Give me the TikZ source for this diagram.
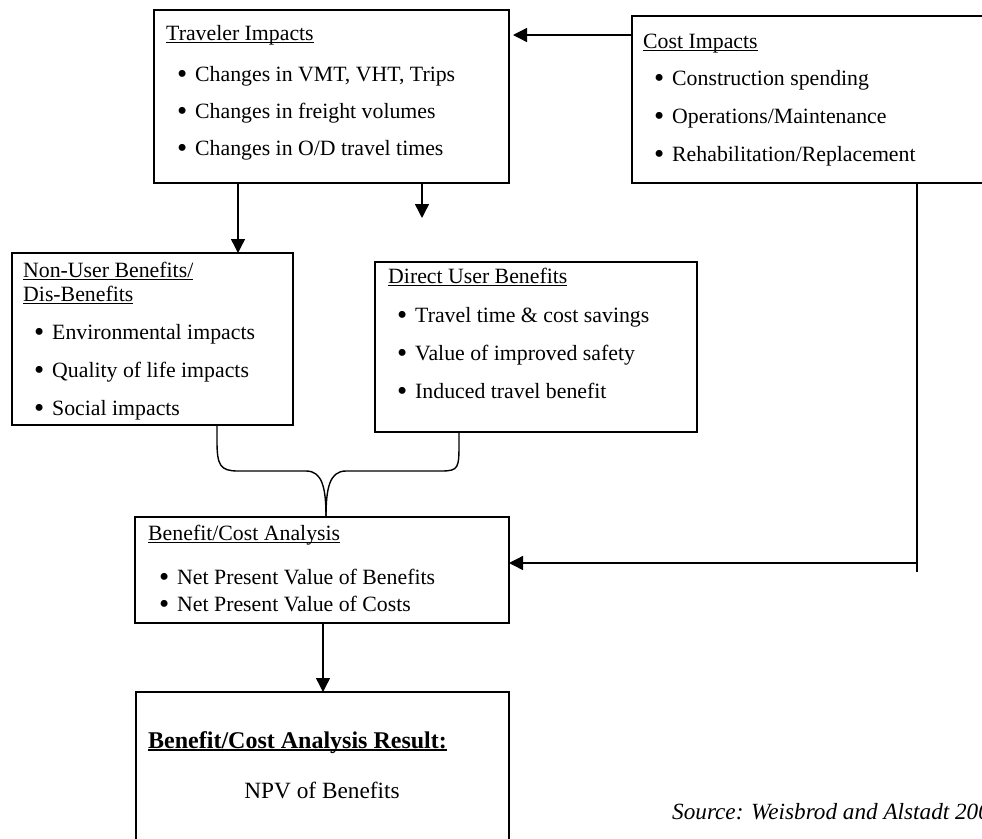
\documentclass[tikz,border=0pt]{standalone}
\usepackage{fontspec}
\setmainfont{Liberation Serif}
\usetikzlibrary{arrows.meta,calc}
\newcommand\uln[2][1.1pt]{\setbox0\hbox{#2}\rlap{\rule[-2.6pt]{\wd0}{#1}}\box0}
\newcommand\bigbul{\llap{\smash{\raisebox{-2.2pt}{\fontsize{29}{29}\selectfont\textbullet}}\hspace{8pt}}}
\tikzset{
  box/.style={draw, line width=1.5pt, rectangle, inner sep=0pt, outer sep=0pt, anchor=north west},
  ttl/.style={anchor=base west, inner sep=0pt, font=\fontsize{21.8}{24}\selectfont},
  itm/.style={anchor=base west, inner sep=0pt, font=\fontsize{21.8}{24}\selectfont,
    execute at begin node={\bigbul}},
  ln/.style={line width=1.4pt},
  arr/.style={line width=1.4pt, -{Triangle[length=14pt,width=14pt]}},
}
\begin{document}
\begin{tikzpicture}[x=1pt,y=-1pt]
\clip (0,0) rectangle (982,838);
\fill[white] (0,0) rectangle (982,838);
% boxes
\node[box, minimum width=355pt, minimum height=173pt] (T) at (154,10) {};
\node[box, minimum width=400pt, minimum height=167pt] (C) at (632,16) {};
\node[box, minimum width=281pt, minimum height=172pt] (N) at (12,253) {};
\node[box, minimum width=322pt, minimum height=170pt] (D) at (375,262) {};
\node[box, minimum width=374pt, minimum height=106pt] (BC) at (135,517) {};
\node[box, minimum width=373pt, minimum height=200pt] (R) at (136,692) {};
% Traveler Impacts
\node[ttl] (Tt) at (166,40) {\uln{Traveler Impacts}};
\node[itm] (T1) at (195,81) {Changes in VMT, VHT, Trips};
\node[itm] (T2) at (195,118) {Changes in freight volumes};
\node[itm] (T3) at (195,155) {Changes in O/D travel times};
% Cost Impacts
\node[ttl] (Ct) at (643,48) {\uln{Cost Impacts}};
\node[itm] (C1) at (672,85) {Construction spending};
\node[itm] (C2) at (672,123) {Operations/Maintenance};
\node[itm] (C3) at (672,161) {Rehabilitation/Replacement};
% Non-user
\node[ttl] (Nt1) at (23,277) {\uln{Non-User Benefits/}};
\node[ttl] (Nt2) at (23,301) {\uln{Dis-Benefits}};
\node[itm] (N1) at (52,339) {Environmental impacts};
\node[itm] (N2) at (52,377) {Quality of life impacts};
\node[itm] (N3) at (52,415) {Social impacts};
% Direct user
\node[ttl] (Dt) at (388,283) {\uln{Direct User Benefits}};
\node[itm] (D1) at (415,322) {Travel time \& cost savings};
\node[itm] (D2) at (415,360) {Value of improved safety};
\node[itm] (D3) at (415,398) {Induced travel benefit};
% Benefit/Cost analysis
\node[ttl] (Bt) at (148,540) {\uln{Benefit/Cost Analysis}};
\node[itm] (B1) at (177,584) {Net Present Value of Benefits};
\node[itm] (B2) at (177,611) {Net Present Value of Costs};
% Result
\node[ttl, font=\fontsize{24}{26}\selectfont\bfseries] (Rt) at (148,748) {\uln[1.6pt]{Benefit/Cost Analysis Result:}};
\node[anchor=base, inner sep=0pt, font=\fontsize{23.3}{26}\selectfont] (Rn) at (322,798) {NPV of Benefits};
\node[anchor=base west, inner sep=0pt, font=\fontsize{23.2}{26}\selectfont\itshape] (Src) at (672,819) {Source: Weisbrod and Alstadt 200};
% connectors
\coordinate (ca) at ($(C.north west)+(0,19)$);
\draw[arr, shorten >=4pt] (ca) -- (ca -| T.east);
\draw[arr] ($(T.south west)+(84,0)$) -- ($(N.north west)+(226,0)$);
\coordinate (tf) at (422,218);
\draw[arr] ($(T.south west)+(268,0)$) -- (tf);
\coordinate (cb) at (917,572);
\draw[ln] ($(C.south west)+(285,0)$) -- (cb);
\coordinate (ch) at (917,563);
\draw[arr] (ch) -- (ch -| BC.east);
\draw[ln] ($(N.south west)+(205,0)$) -- ++(0,16) .. controls +(0,24) and +(-18,0) .. (238,471)
  -- (306,471) .. controls +(16,0) and +(0,-30) .. ($(BC.north west)+(191,0)$);
\draw[ln] ($(D.south west)+(84,0)$) -- ++(0,10) .. controls +(0,26) and +(18,0) .. (441,471)
  -- (346,471) .. controls +(-16,0) and +(0,-30) .. ($(BC.north west)+(191,0)$);
\draw[arr] ($(BC.south west)+(188,0)$) -- ($(R.north west)+(187,0)$);
\end{tikzpicture}
\end{document}
